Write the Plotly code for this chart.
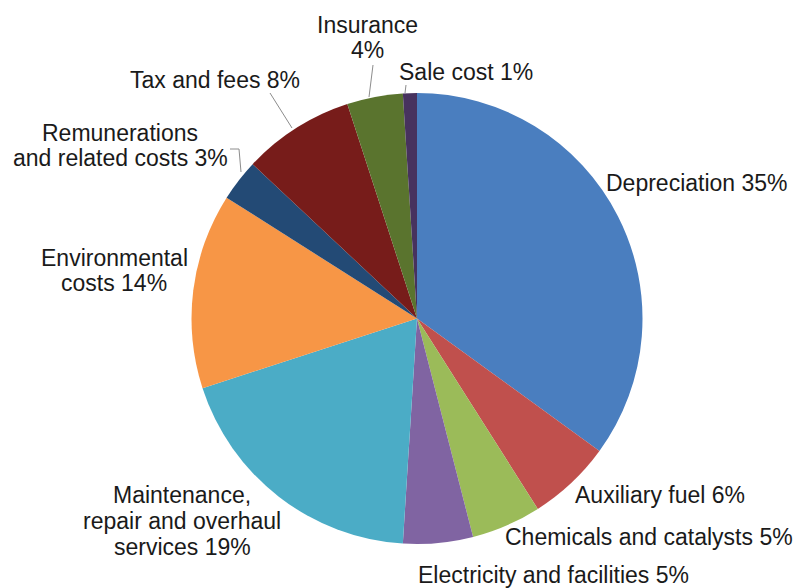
import plotly.graph_objects as go

categories = ["Depreciation", "Auxiliary fuel", "Chemicals and catalysts",
              "Electricity and facilities", "Maintenance, repair and overhaul services",
              "Environmental costs", "Remunerations and related costs",
              "Tax and fees", "Insurance", "Sale cost"]
values = [35, 6, 5, 5, 19, 14, 3, 8, 4, 1]
colors = ["#4A7EBF", "#C0504D", "#9BBB59", "#8064A2", "#4BACC6",
          "#F79646", "#234A75", "#771C1A", "#5A742E", "#47325E"]

W, H = 795, 588

def px(x):
    return x / W

def py(y):
    return 1 - y / H

cx, cy, r = 417, 318.5, 225.5

fig = go.Figure(go.Pie(
    labels=categories, values=values, sort=False, direction="clockwise",
    rotation=0, textinfo="none", hoverinfo="label+percent",
    marker=dict(colors=colors, line=dict(width=0)),
    domain=dict(x=[px(cx - r), px(cx + r)], y=[py(cy + r), py(cy - r)]),
    showlegend=False,
))

# label lines: (text, x center, y center)
label_lines = [
    ("Insurance", 367, 25), ("4%", 367, 50),
    ("Sale cost 1%", 466, 72),
    ("Tax and fees 8%", 215, 80),
    ("Remunerations", 120, 133), ("and related costs 3%", 120, 158),
    ("Environmental", 114, 258), ("costs 14%", 114, 283),
    ("Depreciation 35%", 697, 183),
    ("Auxiliary fuel 6%", 660, 495),
    ("Chemicals and catalysts 5%", 649, 537),
    ("Electricity and facilities 5%", 553, 575),
    ("Maintenance,", 182, 495), ("repair and overhaul", 182, 521), ("services 19%", 182, 547),
]
for t, x, y in label_lines:
    fig.add_annotation(text=t, x=px(x), y=py(y), xref="paper", yref="paper",
                       xanchor="center", yanchor="middle", showarrow=False,
                       font=dict(family="Liberation Sans, Arial", size=23, color="#1a1a1a"))

leaders = [
    [(270, 93), (292, 128)],
    [(373, 65), (369, 97)],
    [(406, 85), (405, 93)],
    [(230, 149), (239, 149), (241, 172)],
]
for pts in leaders:
    path = "M " + " L ".join(f"{px(a)},{py(b)}" for a, b in pts)
    fig.add_shape(type="path", path=path, xref="paper", yref="paper",
                  line=dict(color="#8c8c8c", width=1))

fig.update_layout(width=W, height=H, margin=dict(l=0, r=0, t=0, b=0),
                  paper_bgcolor="white", plot_bgcolor="white")
fig.write_html("out.html", config={"displayModeBar": False},
               post_script="document.body.style.margin='0';document.body.style.overflow='hidden';")
